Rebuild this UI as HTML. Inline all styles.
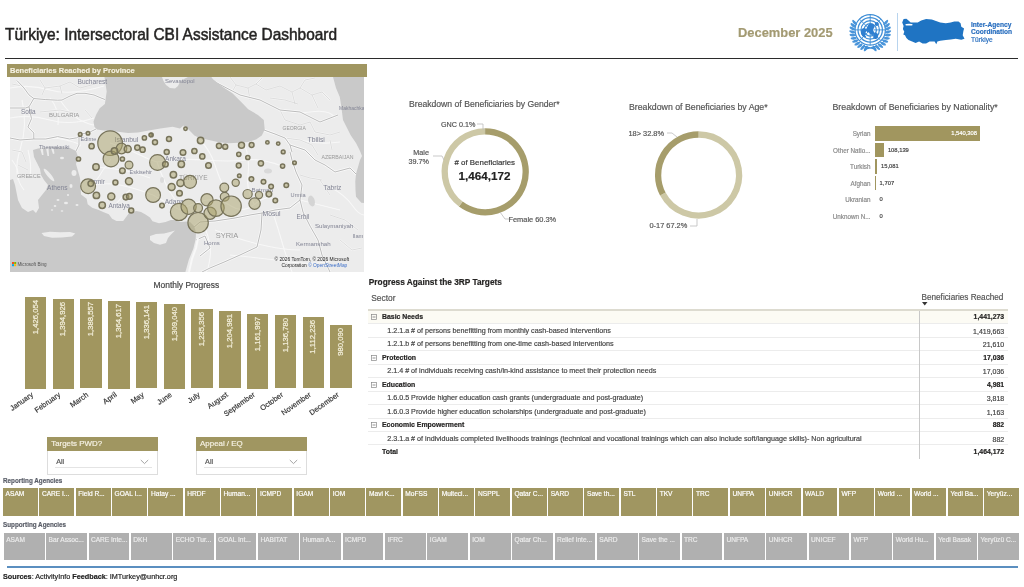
<!DOCTYPE html>
<html><head><meta charset="utf-8"><style>
*{margin:0;padding:0;box-sizing:border-box}
html,body{width:1024px;height:587px;overflow:hidden;background:#fff}
body{position:relative;font-family:"Liberation Sans",sans-serif;color:#333}
#root{position:absolute;left:0;top:0;width:1024px;height:587px;background:#fff;will-change:transform}
.a{position:absolute;white-space:nowrap}
.t{position:absolute;white-space:nowrap;line-height:1;-webkit-text-stroke:0.18px currentColor}
</style></head><body><div id="root">

<div class="t" id="title" style="left:5px;top:25.6px;font-size:16.4px;color:#252423;-webkit-text-stroke:0.5px #252423;transform-origin:0 0;transform:scaleX(0.942)">Türkiye: Intersectoral CBI Assistance Dashboard</div>
<div class="t" id="date" style="left:738px;top:26.8px;font-size:12.9px;font-weight:bold;color:#a39a72">December 2025</div>
<div class="a" style="left:5px;top:57.5px;width:1013px;height:1.6px;background:#2b2b2b"></div>
<svg class="a" style="left:0;top:0" width="1024" height="60"><g fill="none" stroke="#3f8ed6" stroke-width="1.25"><circle cx="870.2" cy="29.9" r="15.2"/><circle cx="870.2" cy="29.9" r="12.2"/><circle cx="870.2" cy="29.9" r="9.2"/><circle cx="870.2" cy="29.9" r="6.2"/></g><g stroke="#3f8ed6" stroke-width="0.9"><line x1="870.20" y1="26.90" x2="870.20" y2="14.70"/><line x1="872.32" y1="27.78" x2="880.95" y2="19.15"/><line x1="873.20" y1="29.90" x2="885.40" y2="29.90"/><line x1="872.32" y1="32.02" x2="880.95" y2="40.65"/><line x1="870.20" y1="32.90" x2="870.20" y2="45.10"/><line x1="868.08" y1="32.02" x2="859.45" y2="40.65"/><line x1="867.20" y1="29.90" x2="855.00" y2="29.90"/><line x1="868.08" y1="27.78" x2="859.45" y2="19.15"/></g><path fill="#2f7fd0" d="M868.2 24.9 q2 -2 5 -1 q2 2 1 4 q-2 1 -1 3 q2 1 1 3 q-2 2 -4 0 q-1 -2 -3 -2 q-2 -1 -1 -3 q1 -2 2 -4 z"/><path fill="#2f7fd0" d="M861.2 29.9 q2 -3 5 -1 q1 2 -1 4 q-1 2 1 4 q-2 1 -4 -1 q-2 -3 -1 -6 z"/><path fill="#2f7fd0" d="M874.2 32.9 q3 -1 4 2 q0 3 -2 4 q-3 0 -3 -2 q0 -2 1 -4 z"/><path fill="#2f7fd0" d="M875.2 21.9 q3 0 4 2 q-1 2 -3 2 q-2 -1 -1 -4 z"/><ellipse cx="874.65" cy="48.95" rx="2.80" ry="1.20" transform="rotate(231.0 874.65 48.95)" fill="#4a95da"/><ellipse cx="874.26" cy="47.40" rx="2.40" ry="0.90" transform="rotate(231.0 874.26 47.40)" fill="#4a95da"/><ellipse cx="877.83" cy="47.84" rx="2.80" ry="1.20" transform="rotate(220.5 877.83 47.84)" fill="#4a95da"/><ellipse cx="877.17" cy="46.39" rx="2.40" ry="0.90" transform="rotate(220.5 877.17 46.39)" fill="#4a95da"/><ellipse cx="880.75" cy="46.17" rx="2.80" ry="1.20" transform="rotate(210.0 880.75 46.17)" fill="#4a95da"/><ellipse cx="879.84" cy="44.86" rx="2.40" ry="0.90" transform="rotate(210.0 879.84 44.86)" fill="#4a95da"/><ellipse cx="883.32" cy="44.00" rx="2.80" ry="1.20" transform="rotate(199.5 883.32 44.00)" fill="#4a95da"/><ellipse cx="882.18" cy="42.88" rx="2.40" ry="0.90" transform="rotate(199.5 882.18 42.88)" fill="#4a95da"/><ellipse cx="885.45" cy="41.39" rx="2.80" ry="1.20" transform="rotate(189.0 885.45 41.39)" fill="#4a95da"/><ellipse cx="884.13" cy="40.49" rx="2.40" ry="0.90" transform="rotate(189.0 884.13 40.49)" fill="#4a95da"/><ellipse cx="887.07" cy="38.44" rx="2.80" ry="1.20" transform="rotate(178.5 887.07 38.44)" fill="#4a95da"/><ellipse cx="885.61" cy="37.80" rx="2.40" ry="0.90" transform="rotate(178.5 885.61 37.80)" fill="#4a95da"/><ellipse cx="888.13" cy="35.24" rx="2.80" ry="1.20" transform="rotate(168.0 888.13 35.24)" fill="#4a95da"/><ellipse cx="886.57" cy="34.88" rx="2.40" ry="0.90" transform="rotate(168.0 886.57 34.88)" fill="#4a95da"/><ellipse cx="888.58" cy="31.90" rx="2.80" ry="1.20" transform="rotate(157.5 888.58 31.90)" fill="#4a95da"/><ellipse cx="886.98" cy="31.83" rx="2.40" ry="0.90" transform="rotate(157.5 886.98 31.83)" fill="#4a95da"/><ellipse cx="888.42" cy="28.54" rx="2.80" ry="1.20" transform="rotate(147.0 888.42 28.54)" fill="#4a95da"/><ellipse cx="886.84" cy="28.76" rx="2.40" ry="0.90" transform="rotate(147.0 886.84 28.76)" fill="#4a95da"/><ellipse cx="887.65" cy="25.26" rx="2.80" ry="1.20" transform="rotate(136.5 887.65 25.26)" fill="#4a95da"/><ellipse cx="886.13" cy="25.77" rx="2.40" ry="0.90" transform="rotate(136.5 886.13 25.77)" fill="#4a95da"/><ellipse cx="886.29" cy="22.18" rx="2.80" ry="1.20" transform="rotate(126.0 886.29 22.18)" fill="#4a95da"/><ellipse cx="884.89" cy="22.96" rx="2.40" ry="0.90" transform="rotate(126.0 884.89 22.96)" fill="#4a95da"/><ellipse cx="865.75" cy="48.95" rx="2.80" ry="1.20" transform="rotate(309.0 865.75 48.95)" fill="#4a95da"/><ellipse cx="866.14" cy="47.40" rx="2.40" ry="0.90" transform="rotate(309.0 866.14 47.40)" fill="#4a95da"/><ellipse cx="862.57" cy="47.84" rx="2.80" ry="1.20" transform="rotate(319.5 862.57 47.84)" fill="#4a95da"/><ellipse cx="863.23" cy="46.39" rx="2.40" ry="0.90" transform="rotate(319.5 863.23 46.39)" fill="#4a95da"/><ellipse cx="859.65" cy="46.17" rx="2.80" ry="1.20" transform="rotate(330.0 859.65 46.17)" fill="#4a95da"/><ellipse cx="860.56" cy="44.86" rx="2.40" ry="0.90" transform="rotate(330.0 860.56 44.86)" fill="#4a95da"/><ellipse cx="857.08" cy="44.00" rx="2.80" ry="1.20" transform="rotate(340.5 857.08 44.00)" fill="#4a95da"/><ellipse cx="858.22" cy="42.88" rx="2.40" ry="0.90" transform="rotate(340.5 858.22 42.88)" fill="#4a95da"/><ellipse cx="854.95" cy="41.39" rx="2.80" ry="1.20" transform="rotate(351.0 854.95 41.39)" fill="#4a95da"/><ellipse cx="856.27" cy="40.49" rx="2.40" ry="0.90" transform="rotate(351.0 856.27 40.49)" fill="#4a95da"/><ellipse cx="853.33" cy="38.44" rx="2.80" ry="1.20" transform="rotate(361.5 853.33 38.44)" fill="#4a95da"/><ellipse cx="854.79" cy="37.80" rx="2.40" ry="0.90" transform="rotate(361.5 854.79 37.80)" fill="#4a95da"/><ellipse cx="852.27" cy="35.24" rx="2.80" ry="1.20" transform="rotate(372.0 852.27 35.24)" fill="#4a95da"/><ellipse cx="853.83" cy="34.88" rx="2.40" ry="0.90" transform="rotate(372.0 853.83 34.88)" fill="#4a95da"/><ellipse cx="851.82" cy="31.90" rx="2.80" ry="1.20" transform="rotate(382.5 851.82 31.90)" fill="#4a95da"/><ellipse cx="853.42" cy="31.83" rx="2.40" ry="0.90" transform="rotate(382.5 853.42 31.83)" fill="#4a95da"/><ellipse cx="851.98" cy="28.54" rx="2.80" ry="1.20" transform="rotate(393.0 851.98 28.54)" fill="#4a95da"/><ellipse cx="853.56" cy="28.76" rx="2.40" ry="0.90" transform="rotate(393.0 853.56 28.76)" fill="#4a95da"/><ellipse cx="852.75" cy="25.26" rx="2.80" ry="1.20" transform="rotate(403.5 852.75 25.26)" fill="#4a95da"/><ellipse cx="854.27" cy="25.77" rx="2.40" ry="0.90" transform="rotate(403.5 854.27 25.77)" fill="#4a95da"/><ellipse cx="854.11" cy="22.18" rx="2.80" ry="1.20" transform="rotate(414.0 854.11 22.18)" fill="#4a95da"/><ellipse cx="855.51" cy="22.96" rx="2.40" ry="0.90" transform="rotate(414.0 855.51 22.96)" fill="#4a95da"/><path d="M864.2 49.4 L876.2 46.4 M876.2 49.4 L864.2 46.4" stroke="#3f8ed6" stroke-width="1.2"/></svg>
<div class="a" style="left:896.5px;top:12.5px;width:1px;height:38px;background:#b8d4ee"></div>
<svg class="a" style="left:0;top:0" width="1024" height="60"><path fill="#1f74c3" d="M903.6 19.0 L906.4 18.7 L908.5 20.4 L910.7 22.5 L914.2 22.5 L917.7 22.5 L921.2 20.4 L926.1 19.0 L931.8 19.4 L936.0 21.1 L940.2 22.5 L945.8 23.3 L950.7 22.5 L954.3 21.5 L958.5 21.5 L960.6 23.3 L961.3 26.8 L964.1 28.5 L963.4 31.0 L962.7 35.2 L964.5 38.7 L961.3 39.8 L955.7 38.7 L950.7 39.4 L945.8 40.1 L940.2 40.8 L937.4 41.5 L936.3 44.3 L934.6 41.5 L929.6 41.5 L926.1 43.6 L922.6 43.6 L919.1 41.5 L915.6 42.9 L912.1 41.5 L908.5 40.1 L906.4 38.0 L905.0 35.2 L903.3 34.5 L904.3 31.7 L902.9 28.9 L903.6 26.1 L902.2 22.5 Z"/><ellipse cx="909" cy="24.7" rx="3.6" ry="0.9" fill="#fff"/></svg>
<div class="t" style="left:971px;top:21.2px;font-size:6.6px;font-weight:bold;color:#2a6fbf;line-height:7.3px">Inter-Agency<br>Coordination<br><span style="font-weight:normal">Türkiye</span></div>
<div class="a" style="left:7px;top:64px;width:359.5px;height:13px;background:#a09661"></div>
<div class="t" id="maptitle" style="left:10px;top:66.5px;font-size:7.5px;font-weight:bold;color:#f4f0e0">Beneficiaries Reached by Province</div>
<svg class="a" style="left:10px;top:77px" width="354" height="195" viewBox="10 77 354 195">
<rect x="10" y="77" width="354" height="195" fill="#ececec"/>
<path d="M10 88 Q30 84 50 90 T104 86" fill="none" stroke="#f8f8f8" stroke-width="1.1" opacity="0.95"/>
<path d="M10 118 Q30 114 50 120 T94 118" fill="none" stroke="#f8f8f8" stroke-width="1.1" opacity="0.95"/>
<path d="M22 100 Q28 125 20 150 T24 190" fill="none" stroke="#f8f8f8" stroke-width="1.1" opacity="0.95"/>
<path d="M30 140 Q50 136 66 140 T80 146" fill="none" stroke="#f8f8f8" stroke-width="1.1" opacity="0.95"/>
<path d="M60 100 Q70 115 80 120 T95 125" fill="none" stroke="#f8f8f8" stroke-width="1.1" opacity="0.95"/>
<path d="M110 143 Q130 150 140 155 T157 162" fill="none" stroke="#f8f8f8" stroke-width="1.1" opacity="0.95"/>
<path d="M157 162 Q165 185 172 195 T180 210" fill="none" stroke="#f8f8f8" stroke-width="1.1" opacity="0.95"/>
<path d="M157 162 Q180 158 205 160 T245 160 T282 166" fill="none" stroke="#f8f8f8" stroke-width="1.1" opacity="0.95"/>
<path d="M88 186 Q105 182 120 185 T153 195" fill="none" stroke="#f8f8f8" stroke-width="1.1" opacity="0.95"/>
<path d="M153 195 Q165 202 180 210" fill="none" stroke="#f8f8f8" stroke-width="1.1" opacity="0.95"/>
<path d="M180 210 Q195 202 207 200 T231 206 T255 204 T275 200" fill="none" stroke="#f8f8f8" stroke-width="1.1" opacity="0.95"/>
<path d="M111 159 Q104 168 100 175 T88 186" fill="none" stroke="#f8f8f8" stroke-width="1.1" opacity="0.95"/>
<path d="M115 205 Q122 196 130 190" fill="none" stroke="#f8f8f8" stroke-width="1.1" opacity="0.95"/>
<path d="M96 167 Q110 168 122 170 T150 178" fill="none" stroke="#f8f8f8" stroke-width="1.1" opacity="0.95"/>
<path d="M200 140 Q210 150 215 165 T224 187" fill="none" stroke="#f8f8f8" stroke-width="1.1" opacity="0.95"/>
<path d="M245 145 Q250 160 248 175 T254 204" fill="none" stroke="#f8f8f8" stroke-width="1.1" opacity="0.95"/>
<path d="M273 213 Q278 228 282 242 T292 272" fill="none" stroke="#f8f8f8" stroke-width="1.1" opacity="0.95"/>
<path d="M205 228 Q212 245 210 258 T206 272" fill="none" stroke="#f8f8f8" stroke-width="1.1" opacity="0.95"/>
<path d="M330 187 Q345 195 352 205 T364 215" fill="none" stroke="#f8f8f8" stroke-width="1.1" opacity="0.95"/>
<path d="M215 230 Q240 240 262 245 T300 250" fill="none" stroke="#f8f8f8" stroke-width="1.1" opacity="0.95"/>
<path d="M300 200 Q320 205 340 210" fill="none" stroke="#f8f8f8" stroke-width="1.1" opacity="0.95"/>
<path d="M270 105 Q290 115 310 112 T335 118" fill="none" stroke="#f8f8f8" stroke-width="1.1" opacity="0.95"/>
<path d="M300 140 Q320 145 340 142" fill="none" stroke="#f8f8f8" stroke-width="1.1" opacity="0.95"/>
<path d="M230 255 Q260 258 290 262 T340 258" fill="none" stroke="#f8f8f8" stroke-width="1.1" opacity="0.95"/>
<path d="M12 160 Q20 170 18 180" fill="none" stroke="#f8f8f8" stroke-width="1.1" opacity="0.95"/>
<path d="M28 150 Q32 165 30 176" fill="none" stroke="#f8f8f8" stroke-width="1.1" opacity="0.95"/>
<path d="M50 98 Q60 110 58 125" fill="none" stroke="#f8f8f8" stroke-width="1.1" opacity="0.95"/>
<path d="M230 77 L236 85 L248 88 L256 84 L266 90" fill="none" stroke="#f6f6f6" stroke-width="1.8" stroke-linejoin="round"/>
<path d="M256 84 L262 78" fill="none" stroke="#f6f6f6" stroke-width="1.8" stroke-linejoin="round"/>
<path d="M266 90 L280 86 L292 92 L300 88 L312 95 L322 92" fill="none" stroke="#f6f6f6" stroke-width="1.8" stroke-linejoin="round"/>
<path d="M292 92 L295 104" fill="none" stroke="#f6f6f6" stroke-width="1.8" stroke-linejoin="round"/>
<path d="M312 95 L318 108" fill="none" stroke="#f6f6f6" stroke-width="1.8" stroke-linejoin="round"/>
<path d="M248 88 L250 100" fill="none" stroke="#f6f6f6" stroke-width="1.8" stroke-linejoin="round"/>
<path d="M270 98 L285 100 L298 104" fill="none" stroke="#f6f6f6" stroke-width="1.8" stroke-linejoin="round"/>
<path d="M236 85 L232 92" fill="none" stroke="#f6f6f6" stroke-width="1.8" stroke-linejoin="round"/>
<path d="M300 88 L305 80 L315 78" fill="none" stroke="#f6f6f6" stroke-width="1.8" stroke-linejoin="round"/>
<path d="M322 92 L330 100" fill="none" stroke="#f6f6f6" stroke-width="1.8" stroke-linejoin="round"/>
<path d="M280 110 L285 120 L300 125 L310 122" fill="none" stroke="#f6f6f6" stroke-width="1.8" stroke-linejoin="round"/>
<path d="M310 122 L315 132 L330 135 L340 132" fill="none" stroke="#f6f6f6" stroke-width="1.8" stroke-linejoin="round"/>
<path d="M285 138 L300 140 L312 145" fill="none" stroke="#f6f6f6" stroke-width="1.8" stroke-linejoin="round"/>
<path d="M312 145 L318 155" fill="none" stroke="#f6f6f6" stroke-width="1.8" stroke-linejoin="round"/>
<path d="M330 140 L332 150" fill="none" stroke="#f6f6f6" stroke-width="1.8" stroke-linejoin="round"/>
<path d="M300 175 L310 178 L322 180" fill="none" stroke="#f6f6f6" stroke-width="1.8" stroke-linejoin="round"/>
<path d="M320 180 L330 195" fill="none" stroke="#f6f6f6" stroke-width="1.8" stroke-linejoin="round"/>
<path d="M40 80 L45 88 L60 86 L70 82" fill="none" stroke="#f6f6f6" stroke-width="1.8" stroke-linejoin="round"/>
<path d="M70 82 L80 88 L95 84" fill="none" stroke="#f6f6f6" stroke-width="1.8" stroke-linejoin="round"/>
<path d="M45 88 L42 95" fill="none" stroke="#f6f6f6" stroke-width="1.8" stroke-linejoin="round"/>
<path d="M12 84 L22 86" fill="none" stroke="#f6f6f6" stroke-width="1.8" stroke-linejoin="round"/>
<path d="M60 86 L62 94" fill="none" stroke="#f6f6f6" stroke-width="1.8" stroke-linejoin="round"/>
<path d="M85 110 L92 118" fill="none" stroke="#f6f6f6" stroke-width="1.8" stroke-linejoin="round"/>
<path d="M40 112 L60 110 L78 114" fill="none" stroke="#f6f6f6" stroke-width="1.8" stroke-linejoin="round"/>
<path d="M12 150 L22 152 L26 162" fill="none" stroke="#f6f6f6" stroke-width="1.8" stroke-linejoin="round"/>
<path d="M18 165 L28 170" fill="none" stroke="#f6f6f6" stroke-width="1.8" stroke-linejoin="round"/>
<path d="M120 240 L135 260" fill="none" stroke="#f6f6f6" stroke-width="1.8" stroke-linejoin="round"/>
<path d="M330 215 L345 220 L358 230" fill="none" stroke="#f6f6f6" stroke-width="1.8" stroke-linejoin="round"/>
<path d="M340 240 L352 250 L362 248" fill="none" stroke="#f6f6f6" stroke-width="1.8" stroke-linejoin="round"/>
<path d="M230 77 L236 85 L248 88 L256 84 L266 90" fill="none" stroke="#cbcbcb" stroke-width="0.6" stroke-linejoin="round"/>
<path d="M256 84 L262 78" fill="none" stroke="#cbcbcb" stroke-width="0.6" stroke-linejoin="round"/>
<path d="M266 90 L280 86 L292 92 L300 88 L312 95 L322 92" fill="none" stroke="#cbcbcb" stroke-width="0.6" stroke-linejoin="round"/>
<path d="M292 92 L295 104" fill="none" stroke="#cbcbcb" stroke-width="0.6" stroke-linejoin="round"/>
<path d="M312 95 L318 108" fill="none" stroke="#cbcbcb" stroke-width="0.6" stroke-linejoin="round"/>
<path d="M248 88 L250 100" fill="none" stroke="#cbcbcb" stroke-width="0.6" stroke-linejoin="round"/>
<path d="M270 98 L285 100 L298 104" fill="none" stroke="#cbcbcb" stroke-width="0.6" stroke-linejoin="round"/>
<path d="M236 85 L232 92" fill="none" stroke="#cbcbcb" stroke-width="0.6" stroke-linejoin="round"/>
<path d="M300 88 L305 80 L315 78" fill="none" stroke="#cbcbcb" stroke-width="0.6" stroke-linejoin="round"/>
<path d="M322 92 L330 100" fill="none" stroke="#cbcbcb" stroke-width="0.6" stroke-linejoin="round"/>
<path d="M280 110 L285 120 L300 125 L310 122" fill="none" stroke="#cbcbcb" stroke-width="0.6" stroke-linejoin="round"/>
<path d="M310 122 L315 132 L330 135 L340 132" fill="none" stroke="#cbcbcb" stroke-width="0.6" stroke-linejoin="round"/>
<path d="M285 138 L300 140 L312 145" fill="none" stroke="#cbcbcb" stroke-width="0.6" stroke-linejoin="round"/>
<path d="M312 145 L318 155" fill="none" stroke="#cbcbcb" stroke-width="0.6" stroke-linejoin="round"/>
<path d="M330 140 L332 150" fill="none" stroke="#cbcbcb" stroke-width="0.6" stroke-linejoin="round"/>
<path d="M300 175 L310 178 L322 180" fill="none" stroke="#cbcbcb" stroke-width="0.6" stroke-linejoin="round"/>
<path d="M320 180 L330 195" fill="none" stroke="#cbcbcb" stroke-width="0.6" stroke-linejoin="round"/>
<path d="M40 80 L45 88 L60 86 L70 82" fill="none" stroke="#cbcbcb" stroke-width="0.6" stroke-linejoin="round"/>
<path d="M70 82 L80 88 L95 84" fill="none" stroke="#cbcbcb" stroke-width="0.6" stroke-linejoin="round"/>
<path d="M45 88 L42 95" fill="none" stroke="#cbcbcb" stroke-width="0.6" stroke-linejoin="round"/>
<path d="M12 84 L22 86" fill="none" stroke="#cbcbcb" stroke-width="0.6" stroke-linejoin="round"/>
<path d="M60 86 L62 94" fill="none" stroke="#cbcbcb" stroke-width="0.6" stroke-linejoin="round"/>
<path d="M85 110 L92 118" fill="none" stroke="#cbcbcb" stroke-width="0.6" stroke-linejoin="round"/>
<path d="M40 112 L60 110 L78 114" fill="none" stroke="#cbcbcb" stroke-width="0.6" stroke-linejoin="round"/>
<path d="M12 150 L22 152 L26 162" fill="none" stroke="#cbcbcb" stroke-width="0.6" stroke-linejoin="round"/>
<path d="M18 165 L28 170" fill="none" stroke="#cbcbcb" stroke-width="0.6" stroke-linejoin="round"/>
<path d="M120 240 L135 260" fill="none" stroke="#cbcbcb" stroke-width="0.6" stroke-linejoin="round"/>
<path d="M330 215 L345 220 L358 230" fill="none" stroke="#cbcbcb" stroke-width="0.6" stroke-linejoin="round"/>
<path d="M340 240 L352 250 L362 248" fill="none" stroke="#cbcbcb" stroke-width="0.6" stroke-linejoin="round"/>
<path d="M17 80.6 L24 88 L29 94.9 L33.8 98.5 L45.8 99.6 L57.7 100.2 L62 100 L70 96 L77 93.3 L85 93.3 L94 95 L102 98.4 L105 99.5" fill="none" stroke="#fafafa" stroke-width="2.4" stroke-linejoin="round"/>
<path d="M33.8 98.5 L29 106.8 L31.5 118.7 L27.9 127 L33.8 133 L33.8 139" fill="none" stroke="#fafafa" stroke-width="2.4" stroke-linejoin="round"/>
<path d="M33.8 139 L45.8 139 L57.7 136.6 L69.6 139 L76.7 137.8 L82 134 L90 132 L96 129" fill="none" stroke="#fafafa" stroke-width="2.4" stroke-linejoin="round"/>
<path d="M79 136 L79 145 L76 151" fill="none" stroke="#fafafa" stroke-width="2.4" stroke-linejoin="round"/>
<path d="M10 108 L25.5 108 L29 106.8" fill="none" stroke="#fafafa" stroke-width="2.4" stroke-linejoin="round"/>
<path d="M10 138 L20 140 L33.8 139" fill="none" stroke="#fafafa" stroke-width="2.4" stroke-linejoin="round"/>
<path d="M193 228 L200 222 L215 221 L235 218 L250 215 L262 213" fill="none" stroke="#fafafa" stroke-width="2.4" stroke-linejoin="round"/>
<path d="M262 213 L261 230 L257 247 L240 255 L225 261.7 L210 268 L202 272" fill="none" stroke="#fafafa" stroke-width="2.4" stroke-linejoin="round"/>
<path d="M262 213 L275 210 L290 208 L300 200" fill="none" stroke="#fafafa" stroke-width="2.4" stroke-linejoin="round"/>
<path d="M300 200 L303 212 L310 226 L318 240 L322 255 L330 272" fill="none" stroke="#fafafa" stroke-width="2.4" stroke-linejoin="round"/>
<path d="M300 200 L302 185 L296 172 L292 160 L290 152" fill="none" stroke="#fafafa" stroke-width="2.4" stroke-linejoin="round"/>
<path d="M264 130 L275 134 L285 138 L290 145 L292 152" fill="none" stroke="#fafafa" stroke-width="2.4" stroke-linejoin="round"/>
<path d="M215 82 L240 95 L260 100 L280 110 L300 112 L320 122 L338 115" fill="none" stroke="#fafafa" stroke-width="2.4" stroke-linejoin="round"/>
<path d="M290 145 L305 150 L315 160 L325 165 L335 172 L350 168 L357 175" fill="none" stroke="#fafafa" stroke-width="2.4" stroke-linejoin="round"/>
<path d="M196 240 L205 236 L210 248 L200 256" fill="none" stroke="#fafafa" stroke-width="2.4" stroke-linejoin="round"/>
<path d="M17 80.6 L24 88 L29 94.9 L33.8 98.5 L45.8 99.6 L57.7 100.2 L62 100 L70 96 L77 93.3 L85 93.3 L94 95 L102 98.4 L105 99.5" fill="none" stroke="#bcbcbc" stroke-width="1" stroke-linejoin="round"/>
<path d="M33.8 98.5 L29 106.8 L31.5 118.7 L27.9 127 L33.8 133 L33.8 139" fill="none" stroke="#bcbcbc" stroke-width="1" stroke-linejoin="round"/>
<path d="M33.8 139 L45.8 139 L57.7 136.6 L69.6 139 L76.7 137.8 L82 134 L90 132 L96 129" fill="none" stroke="#bcbcbc" stroke-width="1" stroke-linejoin="round"/>
<path d="M79 136 L79 145 L76 151" fill="none" stroke="#bcbcbc" stroke-width="1" stroke-linejoin="round"/>
<path d="M10 108 L25.5 108 L29 106.8" fill="none" stroke="#bcbcbc" stroke-width="1" stroke-linejoin="round"/>
<path d="M10 138 L20 140 L33.8 139" fill="none" stroke="#bcbcbc" stroke-width="1" stroke-linejoin="round"/>
<path d="M193 228 L200 222 L215 221 L235 218 L250 215 L262 213" fill="none" stroke="#bcbcbc" stroke-width="1" stroke-linejoin="round"/>
<path d="M262 213 L261 230 L257 247 L240 255 L225 261.7 L210 268 L202 272" fill="none" stroke="#bcbcbc" stroke-width="1" stroke-linejoin="round"/>
<path d="M262 213 L275 210 L290 208 L300 200" fill="none" stroke="#bcbcbc" stroke-width="1" stroke-linejoin="round"/>
<path d="M300 200 L303 212 L310 226 L318 240 L322 255 L330 272" fill="none" stroke="#bcbcbc" stroke-width="1" stroke-linejoin="round"/>
<path d="M300 200 L302 185 L296 172 L292 160 L290 152" fill="none" stroke="#bcbcbc" stroke-width="1" stroke-linejoin="round"/>
<path d="M264 130 L275 134 L285 138 L290 145 L292 152" fill="none" stroke="#bcbcbc" stroke-width="1" stroke-linejoin="round"/>
<path d="M215 82 L240 95 L260 100 L280 110 L300 112 L320 122 L338 115" fill="none" stroke="#bcbcbc" stroke-width="1" stroke-linejoin="round"/>
<path d="M290 145 L305 150 L315 160 L325 165 L335 172 L350 168 L357 175" fill="none" stroke="#bcbcbc" stroke-width="1" stroke-linejoin="round"/>
<path d="M196 240 L205 236 L210 248 L200 256" fill="none" stroke="#bcbcbc" stroke-width="1" stroke-linejoin="round"/>
<path d="M104.5 77.0 L106.7 91.6 L104.9 103.9 L99.7 108.3 L96.2 114.4 L93.5 121.5 L94.4 126.7 L97.0 129.4 L104.0 130.5 L111.1 131.0 L120.0 132.0 L128.0 133.0 L138.0 132.5 L146.0 131.0 L160.3 128.5 L172.6 126.7 L180.0 128.5 L183.5 125.5 L186.5 127.5 L189.5 130.6 L194.4 135.5 L199.3 138.0 L209.0 140.0 L218.8 142.3 L228.6 143.3 L238.4 142.8 L248.1 141.9 L256.0 139.4 L261.8 135.5 L264.7 129.6 L263.8 120.0 L257.9 115.0 L248.2 109.2 L241.2 102.1 L232.4 93.3 L221.8 86.3 L213.0 79.3 L211.3 77.0 Z" fill="#c9c9c9" />
<path d="M162.0 77.0 L163.5 81.0 L166.0 85.0 L170.0 88.0 L175.0 88.5 L178.0 86.0 L180.0 82.0 L184.0 79.0 L188.0 77.0 Z" fill="#ececec" />
<path d="M33.0 150.0 L38.0 148.5 L46.0 147.5 L52.0 147.0 L60.0 147.0 L70.0 148.0 L76.0 151.0 L78.0 157.0 L76.0 164.0 L78.0 171.0 L80.0 178.0 L80.5 186.0 L81.0 194.4 L86.6 198.8 L87.7 204.3 L92.2 207.7 L98.8 209.9 L103.2 212.1 L108.8 214.3 L112.1 218.8 L116.5 221.0 L123.2 221.0 L126.5 216.5 L129.0 213.0 L132.0 212.0 L136.5 211.0 L141.0 212.0 L145.5 214.5 L150.0 217.6 L152.5 221.2 L159.0 223.2 L165.6 221.9 L170.8 219.9 L176.0 220.0 L181.0 222.0 L186.0 221.5 L190.0 222.0 L194.0 226.0 L196.0 232.0 L195.7 239.0 L193.4 248.4 L188.8 259.8 L185.4 272.0 L10.0 272.0 L10.0 180.0 L13.0 179.0 L15.0 185.0 L16.0 190.0 L18.0 200.0 L22.0 208.0 L28.0 212.0 L33.0 210.0 L36.0 213.0 L39.0 208.0 L38.0 200.0 L42.0 195.0 L46.0 190.0 L48.0 185.0 L44.0 180.0 L41.0 175.0 L40.0 169.0 L37.0 163.0 L34.0 157.0 Z" fill="#c9c9c9" />
<ellipse cx="49" cy="175" rx="8" ry="1.8" transform="rotate(50 49 175)" fill="#ececec"/>
<path d="M198 238 L196 248 L192 259 L189 272" stroke="#f8f8f8" stroke-width="2" fill="none"/>
<path d="M40 148 L42 155 L43.5 155 L43 149 Z M46 148 L47.5 156 L49 156 L48.5 148 Z M51 148 L53 154 L54.5 153.5 L53.5 148 Z" fill="#ececec"/>
<path d="M41.5 233.0 L50.0 231.8 L60.0 232.2 L70.0 232.0 L75.3 233.5 L72.0 236.5 L62.0 237.5 L52.0 237.7 L44.0 236.0 Z" fill="#ececec" />
<path d="M150.0 236.0 L156.0 234.0 L164.0 233.5 L170.0 232.0 L175.0 230.5 L171.0 234.5 L168.0 238.0 L166.0 243.0 L160.0 244.8 L154.0 243.0 L150.0 240.0 Z" fill="#ececec" />
<ellipse cx="74" cy="173" rx="2.5" ry="3" fill="#ececec"/>
<ellipse cx="71" cy="186" rx="1.5" ry="2" fill="#ececec"/>
<ellipse cx="66" cy="203" rx="2" ry="1.2" fill="#ececec"/>
<ellipse cx="58" cy="200" rx="1.5" ry="1" fill="#ececec"/>
<ellipse cx="62" cy="158" rx="2" ry="1.2" fill="#ececec"/>
<ellipse cx="55" cy="206" rx="1.3" ry="1" fill="#ececec"/>
<ellipse cx="77" cy="205" rx="1.5" ry="1" fill="#ececec"/>
<ellipse cx="52" cy="210" rx="1.2" ry="0.8" fill="#ececec"/>
<ellipse cx="62" cy="211" rx="1.3" ry="0.8" fill="#ececec"/>
<ellipse cx="68" cy="195" rx="1" ry="1" fill="#ececec"/>
<path d="M333.0 77.0 L336.0 88.0 L339.8 97.0 L341.5 108.0 L343.0 120.0 L350.7 135.3 L356.0 143.0 L359.9 150.7 L362.0 156.0 L360.0 160.0 L358.3 166.0 L356.0 174.0 L355.3 181.3 L355.5 190.0 L356.0 196.7 L361.4 202.8 L364.0 203.0 L364.0 77.0 Z" fill="#c9c9c9" />
<ellipse cx="311.5" cy="201" rx="3.3" ry="5.5" transform="rotate(-15 311.5 201)" fill="#d4d4d4"/>
<ellipse cx="268" cy="171" rx="4" ry="2.5" fill="#d9d9d9"/>
<ellipse cx="162" cy="180" rx="2" ry="3" fill="#dcdcdc"/>
<text x="77.5" y="83.5" font-family="Liberation Sans" font-size="6.6" fill="#828494">Bucharest</text>
<text x="165" y="83" font-family="Liberation Sans" font-size="6" fill="#828494">Sevastopol</text>
<text x="21" y="113.5" font-family="Liberation Sans" font-size="6.4" fill="#828494">Sofia</text>
<text x="49" y="117" font-family="Liberation Sans" font-size="6" fill="#999999">BULGARIA</text>
<text x="39" y="148.5" font-family="Liberation Sans" font-size="5.5" fill="#828494">Thessaloniki</text>
<text x="80.5" y="140.5" font-family="Liberation Sans" font-size="5.5" fill="#828494">Edirne</text>
<text x="114.5" y="141.8" font-family="Liberation Sans" font-size="6.8" fill="#828494">Istanbul</text>
<text x="17" y="178" font-family="Liberation Sans" font-size="5.6" fill="#999999">GREECE</text>
<text x="47" y="189.5" font-family="Liberation Sans" font-size="6.6" fill="#828494">Athens</text>
<text x="91" y="183.5" font-family="Liberation Sans" font-size="6.4" fill="#828494">Izmir</text>
<text x="108.5" y="208" font-family="Liberation Sans" font-size="6.4" fill="#828494">Antalya</text>
<text x="165" y="161" font-family="Liberation Sans" font-size="6.6" fill="#828494">Ankara</text>
<text x="129.5" y="174.3" font-family="Liberation Sans" font-size="5.5" fill="#828494">Eskisehir</text>
<text x="179" y="180" font-family="Liberation Sans" font-size="6.6" fill="#999999">TÜRKIYE</text>
<text x="164.7" y="204.3" font-family="Liberation Sans" font-size="6.6" fill="#828494">Adana</text>
<text x="215.7" y="237.5" font-family="Liberation Sans" font-size="7.5" fill="#999999">SYRIA</text>
<text x="262.5" y="215.5" font-family="Liberation Sans" font-size="6.8" fill="#828494">Mosul</text>
<text x="296.6" y="218.5" font-family="Liberation Sans" font-size="6.4" fill="#828494">Erbil</text>
<text x="290.6" y="197" font-family="Liberation Sans" font-size="5.6" fill="#828494">Urmia</text>
<text x="323.6" y="189.5" font-family="Liberation Sans" font-size="6.6" fill="#828494">Tabriz</text>
<text x="307.5" y="141.8" font-family="Liberation Sans" font-size="6.8" fill="#828494">Tbilisi</text>
<text x="321.5" y="158.5" font-family="Liberation Sans" font-size="5.2" fill="#999999">AZERBAIJAN</text>
<text x="282.5" y="130" font-family="Liberation Sans" font-size="5" fill="#999999">GEORGIA</text>
<text x="315" y="228.3" font-family="Liberation Sans" font-size="6.1" fill="#828494">Sulaymaniyah</text>
<text x="296" y="246.3" font-family="Liberation Sans" font-size="6.1" fill="#828494">Kermanshah</text>
<text x="204" y="244.5" font-family="Liberation Sans" font-size="6" fill="#828494">Homs</text>
<text x="339" y="110" font-family="Liberation Sans" font-size="5" fill="#828494">Makhachkala</text>
<text x="251.5" y="191.5" font-family="Liberation Sans" font-size="6.2" fill="#828494">Batman</text>
<text x="352.5" y="237.7" font-family="Liberation Sans" font-size="5.8" fill="#828494">Ilam</text>
<rect x="12" y="262" width="2" height="2" fill="#f25022"/><rect x="14.2" y="262" width="2" height="2" fill="#7fba00"/><rect x="12" y="264.2" width="2" height="2" fill="#00a4ef"/><rect x="14.2" y="264.2" width="2" height="2" fill="#ffb900"/>
<text x="17.5" y="266" font-family="Liberation Sans" font-size="4.6" fill="#555">Microsoft Bing</text>
<text x="274.5" y="261" font-family="Liberation Sans" font-size="4.85" fill="#222">© 2026 TomTom, © 2026 Microsoft</text>
<text x="281.5" y="266.8" font-family="Liberation Sans" font-size="4.85" fill="#222">Corporation <tspan fill="#3b6ec8">© OpenStreetMap</tspan></text>
<circle cx="110.1" cy="143.2" r="12.3" fill="rgba(168,160,104,0.5)" stroke="#77735a" stroke-width="1.2"/>
<circle cx="111" cy="159" r="7.9" fill="rgba(168,160,104,0.5)" stroke="#77735a" stroke-width="1.2"/>
<circle cx="121.5" cy="148.5" r="5.3" fill="rgba(168,160,104,0.5)" stroke="#77735a" stroke-width="1.2"/>
<circle cx="127.7" cy="149" r="3.5" fill="rgba(168,160,104,0.5)" stroke="#77735a" stroke-width="1.5"/>
<circle cx="114.5" cy="151" r="3.2" fill="rgba(168,160,104,0.5)" stroke="#77735a" stroke-width="1.5"/>
<circle cx="91.6" cy="146.2" r="2.6" fill="rgba(168,160,104,0.5)" stroke="#77735a" stroke-width="1.5"/>
<circle cx="80.2" cy="134.4" r="1.8" fill="rgba(168,160,104,0.5)" stroke="#77735a" stroke-width="1.5"/>
<circle cx="88" cy="133.2" r="1.8" fill="rgba(168,160,104,0.5)" stroke="#77735a" stroke-width="1.5"/>
<circle cx="78.5" cy="159" r="2.1" fill="rgba(168,160,104,0.5)" stroke="#77735a" stroke-width="1.5"/>
<circle cx="96" cy="167" r="3.2" fill="rgba(168,160,104,0.5)" stroke="#77735a" stroke-width="1.5"/>
<circle cx="122.4" cy="159" r="2.1" fill="rgba(168,160,104,0.5)" stroke="#77735a" stroke-width="1.5"/>
<circle cx="129" cy="165" r="3.9" fill="rgba(168,160,104,0.5)" stroke="#77735a" stroke-width="1.2"/>
<circle cx="122.4" cy="170.8" r="2.8" fill="rgba(168,160,104,0.5)" stroke="#77735a" stroke-width="1.5"/>
<circle cx="137.3" cy="147.6" r="2.6" fill="rgba(168,160,104,0.5)" stroke="#77735a" stroke-width="1.5"/>
<circle cx="142.6" cy="149.7" r="2.6" fill="rgba(168,160,104,0.5)" stroke="#77735a" stroke-width="1.5"/>
<circle cx="144.4" cy="137.9" r="2.1" fill="rgba(168,160,104,0.5)" stroke="#77735a" stroke-width="1.5"/>
<circle cx="151.4" cy="134.9" r="1.8" fill="rgba(168,160,104,0.5)" stroke="#77735a" stroke-width="1.5"/>
<circle cx="155" cy="142.3" r="2.5" fill="rgba(168,160,104,0.5)" stroke="#77735a" stroke-width="1.5"/>
<circle cx="169" cy="139" r="2.5" fill="rgba(168,160,104,0.5)" stroke="#77735a" stroke-width="1.5"/>
<circle cx="200.6" cy="140.5" r="3.2" fill="rgba(168,160,104,0.5)" stroke="#77735a" stroke-width="1.5"/>
<circle cx="219" cy="145.8" r="2.6" fill="rgba(168,160,104,0.5)" stroke="#77735a" stroke-width="1.5"/>
<circle cx="225.2" cy="146.7" r="2.5" fill="rgba(168,160,104,0.5)" stroke="#77735a" stroke-width="1.5"/>
<circle cx="166.7" cy="152" r="2.5" fill="rgba(168,160,104,0.5)" stroke="#77735a" stroke-width="1.5"/>
<circle cx="183" cy="152.5" r="2.8" fill="rgba(168,160,104,0.5)" stroke="#77735a" stroke-width="1.5"/>
<circle cx="194.4" cy="151" r="2.6" fill="rgba(168,160,104,0.5)" stroke="#77735a" stroke-width="1.5"/>
<circle cx="202.3" cy="156.4" r="2.6" fill="rgba(168,160,104,0.5)" stroke="#77735a" stroke-width="1.5"/>
<circle cx="157.5" cy="162.5" r="7.9" fill="rgba(168,160,104,0.5)" stroke="#77735a" stroke-width="1.2"/>
<circle cx="165.4" cy="164.3" r="2.8" fill="rgba(168,160,104,0.5)" stroke="#77735a" stroke-width="1.5"/>
<circle cx="181.3" cy="164.3" r="3.2" fill="rgba(168,160,104,0.5)" stroke="#77735a" stroke-width="1.5"/>
<circle cx="208.5" cy="165.5" r="2.8" fill="rgba(168,160,104,0.5)" stroke="#77735a" stroke-width="1.5"/>
<circle cx="173.4" cy="174.8" r="3.2" fill="rgba(168,160,104,0.5)" stroke="#77735a" stroke-width="1.5"/>
<circle cx="190" cy="181.8" r="6.5" fill="rgba(168,160,104,0.5)" stroke="#77735a" stroke-width="1.2"/>
<circle cx="180.4" cy="183" r="3.5" fill="rgba(168,160,104,0.5)" stroke="#77735a" stroke-width="1.5"/>
<circle cx="171.6" cy="187" r="3.5" fill="rgba(168,160,104,0.5)" stroke="#77735a" stroke-width="1.5"/>
<circle cx="179.5" cy="193.3" r="2.8" fill="rgba(168,160,104,0.5)" stroke="#77735a" stroke-width="1.5"/>
<circle cx="224.3" cy="187.6" r="4.4" fill="rgba(168,160,104,0.5)" stroke="#77735a" stroke-width="1.2"/>
<circle cx="235.7" cy="182.7" r="3.6" fill="rgba(168,160,104,0.5)" stroke="#77735a" stroke-width="1.2"/>
<circle cx="88.1" cy="186.2" r="7.4" fill="rgba(168,160,104,0.5)" stroke="#77735a" stroke-width="1.2"/>
<circle cx="90.8" cy="183.6" r="2.8" fill="rgba(168,160,104,0.5)" stroke="#77735a" stroke-width="1.5"/>
<circle cx="115.4" cy="182.4" r="2.5" fill="rgba(168,160,104,0.5)" stroke="#77735a" stroke-width="1.5"/>
<circle cx="129" cy="181.3" r="3.5" fill="rgba(168,160,104,0.5)" stroke="#77735a" stroke-width="1.5"/>
<circle cx="96.4" cy="195.4" r="3.2" fill="rgba(168,160,104,0.5)" stroke="#77735a" stroke-width="1.5"/>
<circle cx="111.3" cy="196.4" r="3.5" fill="rgba(168,160,104,0.5)" stroke="#77735a" stroke-width="1.5"/>
<circle cx="125.9" cy="197.1" r="2.8" fill="rgba(168,160,104,0.5)" stroke="#77735a" stroke-width="1.5"/>
<circle cx="129.4" cy="196.4" r="2.8" fill="rgba(168,160,104,0.5)" stroke="#77735a" stroke-width="1.5"/>
<circle cx="102.2" cy="205.2" r="3.2" fill="rgba(168,160,104,0.5)" stroke="#77735a" stroke-width="1.5"/>
<circle cx="131.2" cy="210.5" r="2.5" fill="rgba(168,160,104,0.5)" stroke="#77735a" stroke-width="1.5"/>
<circle cx="153.1" cy="195" r="7.4" fill="rgba(168,160,104,0.5)" stroke="#77735a" stroke-width="1.2"/>
<circle cx="162" cy="205.6" r="2.3" fill="rgba(168,160,104,0.5)" stroke="#77735a" stroke-width="1.5"/>
<circle cx="179" cy="211.9" r="8.6" fill="rgba(168,160,104,0.5)" stroke="#77735a" stroke-width="1.2"/>
<circle cx="188.6" cy="206.8" r="7.6" fill="rgba(168,160,104,0.5)" stroke="#77735a" stroke-width="1.2"/>
<circle cx="198.1" cy="222.7" r="10.2" fill="rgba(168,160,104,0.5)" stroke="#77735a" stroke-width="1.2"/>
<circle cx="198.1" cy="208.1" r="4.4" fill="rgba(168,160,104,0.5)" stroke="#77735a" stroke-width="1.2"/>
<circle cx="207" cy="199.8" r="6.1" fill="rgba(168,160,104,0.5)" stroke="#77735a" stroke-width="1.2"/>
<circle cx="210.1" cy="213.2" r="6.1" fill="rgba(168,160,104,0.5)" stroke="#77735a" stroke-width="1.2"/>
<circle cx="215.9" cy="208.1" r="8.3" fill="rgba(168,160,104,0.5)" stroke="#77735a" stroke-width="1.2"/>
<circle cx="224.7" cy="196.7" r="4.4" fill="rgba(168,160,104,0.5)" stroke="#77735a" stroke-width="1.2"/>
<circle cx="231.1" cy="206.2" r="10.2" fill="rgba(168,160,104,0.5)" stroke="#77735a" stroke-width="1.2"/>
<circle cx="239.3" cy="175.7" r="1.8" fill="rgba(168,160,104,0.5)" stroke="#77735a" stroke-width="1.5"/>
<circle cx="247.6" cy="194.1" r="4.6" fill="rgba(168,160,104,0.5)" stroke="#77735a" stroke-width="1.2"/>
<circle cx="254.6" cy="203.6" r="5.7" fill="rgba(168,160,104,0.5)" stroke="#77735a" stroke-width="1.2"/>
<circle cx="259" cy="195.1" r="3.6" fill="rgba(168,160,104,0.5)" stroke="#77735a" stroke-width="1.2"/>
<circle cx="251.4" cy="179.1" r="2.3" fill="rgba(168,160,104,0.5)" stroke="#77735a" stroke-width="1.5"/>
<circle cx="263.5" cy="181.7" r="2.3" fill="rgba(168,160,104,0.5)" stroke="#77735a" stroke-width="1.5"/>
<circle cx="271.1" cy="186.5" r="2.3" fill="rgba(168,160,104,0.5)" stroke="#77735a" stroke-width="1.5"/>
<circle cx="268.9" cy="194.1" r="2.8" fill="rgba(168,160,104,0.5)" stroke="#77735a" stroke-width="1.5"/>
<circle cx="275.3" cy="200.5" r="2.3" fill="rgba(168,160,104,0.5)" stroke="#77735a" stroke-width="1.5"/>
<circle cx="286.3" cy="185.2" r="2.3" fill="rgba(168,160,104,0.5)" stroke="#77735a" stroke-width="1.5"/>
<circle cx="241.5" cy="145.3" r="3" fill="rgba(168,160,104,0.5)" stroke="#77735a" stroke-width="1.5"/>
<circle cx="251.6" cy="145" r="2.4" fill="rgba(168,160,104,0.5)" stroke="#77735a" stroke-width="1.5"/>
<circle cx="267.4" cy="142.4" r="1.7" fill="rgba(168,160,104,0.5)" stroke="#77735a" stroke-width="1.5"/>
<circle cx="278.2" cy="143.6" r="1.7" fill="rgba(168,160,104,0.5)" stroke="#77735a" stroke-width="1.5"/>
<circle cx="283.2" cy="151.9" r="1.9" fill="rgba(168,160,104,0.5)" stroke="#77735a" stroke-width="1.5"/>
<circle cx="238.8" cy="154.3" r="2.1" fill="rgba(168,160,104,0.5)" stroke="#77735a" stroke-width="1.5"/>
<circle cx="247.8" cy="157.5" r="2.1" fill="rgba(168,160,104,0.5)" stroke="#77735a" stroke-width="1.5"/>
<circle cx="260.9" cy="163.3" r="2.6" fill="rgba(168,160,104,0.5)" stroke="#77735a" stroke-width="1.5"/>
<circle cx="238.7" cy="165.5" r="2.4" fill="rgba(168,160,104,0.5)" stroke="#77735a" stroke-width="1.5"/>
<circle cx="282.6" cy="166.1" r="2.1" fill="rgba(168,160,104,0.5)" stroke="#77735a" stroke-width="1.5"/>
<circle cx="294.5" cy="162.7" r="1.8" fill="rgba(168,160,104,0.5)" stroke="#77735a" stroke-width="1.5"/>
<circle cx="185.5" cy="128.7" r="1.7" fill="rgba(168,160,104,0.5)" stroke="#77735a" stroke-width="1.5"/>
<circle cx="150.6" cy="135" r="1.7" fill="rgba(168,160,104,0.5)" stroke="#77735a" stroke-width="1.5"/>
</svg>
<div class="t" id="gtitle" style="left:409px;top:100px;font-size:8.65px;color:#555">Breakdown of Beneficiaries by Gender*</div>
<svg class="a" style="left:0;top:0" width="1024" height="587">
<path d="M485.20 131.30 A40.5 40.5 0 1 1 460.77 204.10" fill="none" stroke="#a69d6b" stroke-width="6.3"/><path d="M460.77 204.10 A40.5 40.5 0 0 1 484.92 131.30" fill="none" stroke="#cdc8a6" stroke-width="6.3"/><path d="M484.92 131.30 A40.5 40.5 0 0 1 485.20 131.30" fill="none" stroke="#8a8050" stroke-width="6.3"/>
<path d="M477 124 L483 124 L483 130" fill="none" stroke="#bbb" stroke-width="0.8"/>
<path d="M433 156 L442 156 L444 160" fill="none" stroke="#bbb" stroke-width="0.8"/>
<path d="M500 212 L505 219 L511 219" fill="none" stroke="#bbb" stroke-width="0.8"/>
<path d="M698.60 134.50 A40.5 40.5 0 1 1 662.84 194.01" fill="none" stroke="#cdc8a6" stroke-width="6.3"/><path d="M662.84 194.01 A40.5 40.5 0 0 1 698.60 134.50" fill="none" stroke="#a69d6b" stroke-width="6.3"/>
<path d="M667 133 L672 133 L677 137" fill="none" stroke="#bbb" stroke-width="0.8"/>
<path d="M690 226 L697 226 L697 219" fill="none" stroke="#bbb" stroke-width="0.8"/>
</svg>
<div class="t" style="left:441px;top:120.5px;font-size:7.2px;color:#555">GNC 0.1%</div>
<div class="t" style="left:408.5px;top:147.5px;font-size:7.2px;color:#555;text-align:right;line-height:9px">Male<br>39.7%</div>
<div class="t" style="left:508.5px;top:216px;font-size:7.4px;color:#555">Female 60.3%</div>
<div class="t" id="nb" style="left:454.5px;top:158.5px;font-size:7.9px;color:#333">&#35; of Beneficiaries</div>
<div class="t" id="nbv" style="left:458.5px;top:170px;font-size:11.7px;font-weight:bold;color:#222">1,464,172</div>
<div class="t" id="atitle" style="left:629px;top:103px;font-size:8.75px;color:#555">Breakdown of Beneficiaries by Age*</div>
<div class="t" style="left:628.5px;top:129.5px;font-size:7.4px;color:#555">18&gt; 32.8%</div>
<div class="t" style="left:649.5px;top:222px;font-size:7.4px;color:#555">0-17 67.2%</div>
<div class="t" id="ntitle" style="left:832.5px;top:103px;font-size:8.8px;color:#555">Breakdown of Beneficiaries by Nationality*</div>
<div class="t" style="right:153.5px;top:131.3px;font-size:6.3px;color:#8a8a8a">Syrian</div>
<div class="a" style="left:875.3px;top:126.4px;width:105.0px;height:14.5px;background:#a1965f"></div>
<div class="t" style="right:47px;top:131.3px;font-size:5.8px;color:#fff">1,540,308</div>
<div class="t" style="right:153.5px;top:147.8px;font-size:6.3px;color:#8a8a8a">Other Natio...</div>
<div class="a" style="left:875.3px;top:142.8px;width:8.4px;height:14.5px;background:#a1965f"></div>
<div class="t" style="left:887.9px;top:147.8px;font-size:5.8px;color:#444">108,139</div>
<div class="t" style="right:153.5px;top:164.2px;font-size:6.3px;color:#8a8a8a">Turkish</div>
<div class="a" style="left:875.3px;top:159.3px;width:1.5px;height:14.5px;background:#a1965f"></div>
<div class="t" style="left:881.0px;top:164.2px;font-size:5.8px;color:#444">15,081</div>
<div class="t" style="right:153.5px;top:180.7px;font-size:6.3px;color:#8a8a8a">Afghan</div>
<div class="a" style="left:875.3px;top:175.8px;width:0.8px;height:14.5px;background:#a1965f"></div>
<div class="t" style="left:879.6px;top:180.7px;font-size:5.8px;color:#444">1,707</div>
<div class="t" style="right:153.5px;top:197.1px;font-size:6.3px;color:#8a8a8a">Ukranian</div>
<div class="t" style="left:879.5px;top:197.1px;font-size:5.8px;color:#444">0</div>
<div class="t" style="right:153.5px;top:213.6px;font-size:6.3px;color:#8a8a8a">Unknown N...</div>
<div class="t" style="left:879.5px;top:213.6px;font-size:5.8px;color:#444">0</div>
<div class="t" id="mtitle" style="left:153.5px;top:281px;font-size:8.45px;color:#444">Monthly Progress</div>
<div class="a" style="left:24.7px;top:296.5px;width:21.6px;height:92.0px;background:#a1965f"></div>
<div class="a" style="left:24.7px;top:299.5px;width:21.6px;display:flex;justify-content:center"><span style="writing-mode:vertical-rl;transform:rotate(180deg);font-size:7.7px;line-height:1;color:#f5f1de;-webkit-text-stroke:0.2px #f5f1de">1,426,054</span></div>
<div class="t" style="right:993.8px;top:391.0px;font-size:7.4px;color:#333;transform-origin:100% 0;transform:rotate(-35deg)">January</div>
<div class="a" style="left:52.5px;top:298.5px;width:21.6px;height:90.0px;background:#a1965f"></div>
<div class="a" style="left:52.5px;top:301.5px;width:21.6px;display:flex;justify-content:center"><span style="writing-mode:vertical-rl;transform:rotate(180deg);font-size:7.7px;line-height:1;color:#f5f1de;-webkit-text-stroke:0.2px #f5f1de">1,394,926</span></div>
<div class="t" style="right:966.0px;top:391.0px;font-size:7.4px;color:#333;transform-origin:100% 0;transform:rotate(-35deg)">February</div>
<div class="a" style="left:80.3px;top:298.9px;width:21.6px;height:89.6px;background:#a1965f"></div>
<div class="a" style="left:80.3px;top:301.9px;width:21.6px;display:flex;justify-content:center"><span style="writing-mode:vertical-rl;transform:rotate(180deg);font-size:7.7px;line-height:1;color:#f5f1de;-webkit-text-stroke:0.2px #f5f1de">1,388,557</span></div>
<div class="t" style="right:938.2px;top:391.0px;font-size:7.4px;color:#333;transform-origin:100% 0;transform:rotate(-35deg)">March</div>
<div class="a" style="left:108.0px;top:300.5px;width:21.6px;height:88.0px;background:#a1965f"></div>
<div class="a" style="left:108.0px;top:303.5px;width:21.6px;display:flex;justify-content:center"><span style="writing-mode:vertical-rl;transform:rotate(180deg);font-size:7.7px;line-height:1;color:#f5f1de;-webkit-text-stroke:0.2px #f5f1de">1,364,617</span></div>
<div class="t" style="right:910.5px;top:391.0px;font-size:7.4px;color:#333;transform-origin:100% 0;transform:rotate(-35deg)">April</div>
<div class="a" style="left:135.8px;top:302.3px;width:21.6px;height:86.2px;background:#a1965f"></div>
<div class="a" style="left:135.8px;top:305.3px;width:21.6px;display:flex;justify-content:center"><span style="writing-mode:vertical-rl;transform:rotate(180deg);font-size:7.7px;line-height:1;color:#f5f1de;-webkit-text-stroke:0.2px #f5f1de">1,336,141</span></div>
<div class="t" style="right:882.7px;top:391.0px;font-size:7.4px;color:#333;transform-origin:100% 0;transform:rotate(-35deg)">May</div>
<div class="a" style="left:163.6px;top:304.0px;width:21.6px;height:84.5px;background:#a1965f"></div>
<div class="a" style="left:163.6px;top:307.0px;width:21.6px;display:flex;justify-content:center"><span style="writing-mode:vertical-rl;transform:rotate(180deg);font-size:7.7px;line-height:1;color:#f5f1de;-webkit-text-stroke:0.2px #f5f1de">1,309,040</span></div>
<div class="t" style="right:854.9px;top:391.0px;font-size:7.4px;color:#333;transform-origin:100% 0;transform:rotate(-35deg)">June</div>
<div class="a" style="left:191.4px;top:308.8px;width:21.6px;height:79.7px;background:#a1965f"></div>
<div class="a" style="left:191.4px;top:311.8px;width:21.6px;display:flex;justify-content:center"><span style="writing-mode:vertical-rl;transform:rotate(180deg);font-size:7.7px;line-height:1;color:#f5f1de;-webkit-text-stroke:0.2px #f5f1de">1,235,356</span></div>
<div class="t" style="right:827.1px;top:391.0px;font-size:7.4px;color:#333;transform-origin:100% 0;transform:rotate(-35deg)">July</div>
<div class="a" style="left:219.2px;top:310.8px;width:21.6px;height:77.7px;background:#a1965f"></div>
<div class="a" style="left:219.2px;top:313.8px;width:21.6px;display:flex;justify-content:center"><span style="writing-mode:vertical-rl;transform:rotate(180deg);font-size:7.7px;line-height:1;color:#f5f1de;-webkit-text-stroke:0.2px #f5f1de">1,204,981</span></div>
<div class="t" style="right:799.3px;top:391.0px;font-size:7.4px;color:#333;transform-origin:100% 0;transform:rotate(-35deg)">August</div>
<div class="a" style="left:246.9px;top:313.5px;width:21.6px;height:75.0px;background:#a1965f"></div>
<div class="a" style="left:246.9px;top:316.5px;width:21.6px;display:flex;justify-content:center"><span style="writing-mode:vertical-rl;transform:rotate(180deg);font-size:7.7px;line-height:1;color:#f5f1de;-webkit-text-stroke:0.2px #f5f1de">1,161,997</span></div>
<div class="t" style="right:771.6px;top:391.0px;font-size:7.4px;color:#333;transform-origin:100% 0;transform:rotate(-35deg)">September</div>
<div class="a" style="left:274.7px;top:315.2px;width:21.6px;height:73.3px;background:#a1965f"></div>
<div class="a" style="left:274.7px;top:318.2px;width:21.6px;display:flex;justify-content:center"><span style="writing-mode:vertical-rl;transform:rotate(180deg);font-size:7.7px;line-height:1;color:#f5f1de;-webkit-text-stroke:0.2px #f5f1de">1,136,780</span></div>
<div class="t" style="right:743.8px;top:391.0px;font-size:7.4px;color:#333;transform-origin:100% 0;transform:rotate(-35deg)">October</div>
<div class="a" style="left:302.5px;top:316.7px;width:21.6px;height:71.8px;background:#a1965f"></div>
<div class="a" style="left:302.5px;top:319.7px;width:21.6px;display:flex;justify-content:center"><span style="writing-mode:vertical-rl;transform:rotate(180deg);font-size:7.7px;line-height:1;color:#f5f1de;-webkit-text-stroke:0.2px #f5f1de">1,112,236</span></div>
<div class="t" style="right:716.0px;top:391.0px;font-size:7.4px;color:#333;transform-origin:100% 0;transform:rotate(-35deg)">November</div>
<div class="a" style="left:330.3px;top:325.3px;width:21.6px;height:63.2px;background:#a1965f"></div>
<div class="a" style="left:330.3px;top:328.3px;width:21.6px;display:flex;justify-content:center"><span style="writing-mode:vertical-rl;transform:rotate(180deg);font-size:7.7px;line-height:1;color:#f5f1de;-webkit-text-stroke:0.2px #f5f1de">980,090</span></div>
<div class="t" style="right:688.2px;top:391.0px;font-size:7.4px;color:#333;transform-origin:100% 0;transform:rotate(-35deg)">December</div>
<div class="a" style="left:46.6px;top:437px;width:111px;height:14px;background:#a09661"></div>
<div class="t" style="left:51.2px;top:440px;font-size:7.9px;color:#f6f2e4">Targets PWD?</div>
<div class="a" style="left:46.6px;top:451px;width:111px;height:23.5px;border:1px solid #ddd;border-top:none"></div>
<div class="a" style="left:55.2px;top:467px;width:96.5px;height:1px;background:#e4e4e4"></div>
<div class="t" style="left:56.2px;top:458px;font-size:7.2px;color:#555">All</div>
<svg class="a" style="left:140.2px;top:459px" width="9" height="6" viewBox="0 0 9 6"><path d="M0.8 1 L4.5 4.6 L8.2 1" fill="none" stroke="#999" stroke-width="0.9"/></svg>
<div class="a" style="left:195.5px;top:437px;width:111px;height:14px;background:#a09661"></div>
<div class="t" style="left:200.1px;top:440px;font-size:7.9px;color:#f6f2e4">Appeal / EQ</div>
<div class="a" style="left:195.5px;top:451px;width:111px;height:23.5px;border:1px solid #ddd;border-top:none"></div>
<div class="a" style="left:204.1px;top:467px;width:96.5px;height:1px;background:#e4e4e4"></div>
<div class="t" style="left:205.1px;top:458px;font-size:7.2px;color:#555">All</div>
<svg class="a" style="left:289.1px;top:459px" width="9" height="6" viewBox="0 0 9 6"><path d="M0.8 1 L4.5 4.6 L8.2 1" fill="none" stroke="#999" stroke-width="0.9"/></svg>
<div class="t" id="ptitle" style="left:368.8px;top:277.5px;font-size:8.3px;font-weight:bold;color:#252423">Progress Against the 3RP Targets</div>
<div class="t" id="sector" style="left:371.3px;top:293.5px;font-size:8.35px;color:#555">Sector</div>
<div class="t" id="benr" style="left:921.5px;top:293.5px;font-size:8.2px;color:#555">Beneficiaries Reached</div>
<svg class="a" style="left:922px;top:302px" width="6" height="4"><path d="M0 0 L5.5 0 L2.75 3.5Z" fill="#333"/></svg>
<div class="a" style="left:368px;top:309.2px;width:640px;height:1.8px;background:#dddbd0"></div>
<div class="a" style="left:368px;top:311px;width:640px;height:12px;background:#fcfbf4"></div>
<div class="a" style="left:368px;top:323.1px;width:640px;height:0.8px;background:#ececec"></div>
<svg class="a" style="left:371px;top:314.1px" width="6" height="6" viewBox="0 0 6 6"><rect x="0.5" y="0.5" width="5" height="5" fill="none" stroke="#888" stroke-width="0.7"/><line x1="1.5" y1="3" x2="4.5" y2="3" stroke="#666" stroke-width="0.7"/></svg>
<div class="t" style="left:382px;top:314.3px;font-size:6.9px;font-weight:bold;color:#252423">Basic Needs</div>
<div class="t" style="right:19.799999999999955px;top:314.3px;font-size:6.9px;font-weight:bold;color:#252423">1,441,273</div>
<div class="a" style="left:368px;top:336.6px;width:640px;height:0.8px;background:#ececec"></div>
<div class="t" style="left:387.2px;top:327.8px;font-size:7.18px;color:#444">1.2.1.a # of persons benefitting from monthly cash-based interventions</div>
<div class="t" style="right:19.799999999999955px;top:327.8px;font-size:7.0px;color:#444">1,419,663</div>
<div class="a" style="left:368px;top:350.1px;width:640px;height:0.8px;background:#ececec"></div>
<div class="t" style="left:387.2px;top:341.3px;font-size:7.18px;color:#444">1.2.1.b # of persons benefitting from one-time cash-based interventions</div>
<div class="t" style="right:19.799999999999955px;top:341.3px;font-size:7.0px;color:#444">21,610</div>
<div class="a" style="left:368px;top:363.5px;width:640px;height:0.8px;background:#ececec"></div>
<svg class="a" style="left:371px;top:354.5px" width="6" height="6" viewBox="0 0 6 6"><rect x="0.5" y="0.5" width="5" height="5" fill="none" stroke="#888" stroke-width="0.7"/><line x1="1.5" y1="3" x2="4.5" y2="3" stroke="#666" stroke-width="0.7"/></svg>
<div class="t" style="left:382px;top:354.7px;font-size:6.9px;font-weight:bold;color:#252423">Protection</div>
<div class="t" style="right:19.799999999999955px;top:354.7px;font-size:6.9px;font-weight:bold;color:#252423">17,036</div>
<div class="a" style="left:368px;top:377.0px;width:640px;height:0.8px;background:#ececec"></div>
<div class="t" style="left:387.2px;top:368.2px;font-size:7.18px;color:#444">2.1.4 # of individuals receiving cash/in-kind assistance to meet their protection needs</div>
<div class="t" style="right:19.799999999999955px;top:368.2px;font-size:7.0px;color:#444">17,036</div>
<div class="a" style="left:368px;top:390.5px;width:640px;height:0.8px;background:#ececec"></div>
<svg class="a" style="left:371px;top:381.5px" width="6" height="6" viewBox="0 0 6 6"><rect x="0.5" y="0.5" width="5" height="5" fill="none" stroke="#888" stroke-width="0.7"/><line x1="1.5" y1="3" x2="4.5" y2="3" stroke="#666" stroke-width="0.7"/></svg>
<div class="t" style="left:382px;top:381.7px;font-size:6.9px;font-weight:bold;color:#252423">Education</div>
<div class="t" style="right:19.799999999999955px;top:381.7px;font-size:6.9px;font-weight:bold;color:#252423">4,981</div>
<div class="a" style="left:368px;top:404.0px;width:640px;height:0.8px;background:#ececec"></div>
<div class="t" style="left:387.2px;top:395.2px;font-size:7.18px;color:#444">1.6.0.5 Provide higher education cash grants (undergraduate and post-graduate)</div>
<div class="t" style="right:19.799999999999955px;top:395.2px;font-size:7.0px;color:#444">3,818</div>
<div class="a" style="left:368px;top:417.5px;width:640px;height:0.8px;background:#ececec"></div>
<div class="t" style="left:387.2px;top:408.7px;font-size:7.18px;color:#444">1.6.0.3 Provide higher education scholarships (undergraduate and post-graduate)</div>
<div class="t" style="right:19.799999999999955px;top:408.7px;font-size:7.0px;color:#444">1,163</div>
<div class="a" style="left:368px;top:430.9px;width:640px;height:0.8px;background:#ececec"></div>
<svg class="a" style="left:371px;top:421.9px" width="6" height="6" viewBox="0 0 6 6"><rect x="0.5" y="0.5" width="5" height="5" fill="none" stroke="#888" stroke-width="0.7"/><line x1="1.5" y1="3" x2="4.5" y2="3" stroke="#666" stroke-width="0.7"/></svg>
<div class="t" style="left:382px;top:422.1px;font-size:6.9px;font-weight:bold;color:#252423">Economic Empowerment</div>
<div class="t" style="right:19.799999999999955px;top:422.1px;font-size:6.9px;font-weight:bold;color:#252423">882</div>
<div class="a" style="left:368px;top:444.4px;width:640px;height:0.8px;background:#ececec"></div>
<div class="t" style="left:387.2px;top:435.6px;font-size:7.18px;color:#444">2.3.1.a # of individuals completed livelihoods trainings (technical and vocational trainings which can also include soft/language skills)- Non agricultural</div>
<div class="t" style="right:19.799999999999955px;top:435.6px;font-size:7.0px;color:#444">882</div>
<div class="t" style="left:382px;top:449.1px;font-size:6.9px;font-weight:bold;color:#252423">Total</div>
<div class="t" style="right:19.799999999999955px;top:449.1px;font-size:6.9px;font-weight:bold;color:#252423">1,464,172</div>
<div class="a" style="left:919px;top:311px;width:0.9px;height:148px;background:#c8c8c8"></div>
<div class="t" style="left:3px;top:477.5px;font-size:6.3px;font-weight:bold;color:#5a5e68">Reporting Agencies</div>
<div class="a" style="left:3.0px;top:488px;width:34.9px;height:27.5px;background:#a09661"></div>
<div class="t" style="left:5.6px;top:491.3px;font-size:6.6px;color:#fff">ASAM</div>
<div class="a" style="left:39.3px;top:488px;width:34.9px;height:27.5px;background:#a09661"></div>
<div class="t" style="left:41.9px;top:491.3px;font-size:6.6px;color:#fff">CARE I...</div>
<div class="a" style="left:75.7px;top:488px;width:34.9px;height:27.5px;background:#a09661"></div>
<div class="t" style="left:78.3px;top:491.3px;font-size:6.6px;color:#fff">Field R...</div>
<div class="a" style="left:112.0px;top:488px;width:34.9px;height:27.5px;background:#a09661"></div>
<div class="t" style="left:114.6px;top:491.3px;font-size:6.6px;color:#fff">GOAL I...</div>
<div class="a" style="left:148.4px;top:488px;width:34.9px;height:27.5px;background:#a09661"></div>
<div class="t" style="left:151.0px;top:491.3px;font-size:6.6px;color:#fff">Hatay ...</div>
<div class="a" style="left:184.7px;top:488px;width:34.9px;height:27.5px;background:#a09661"></div>
<div class="t" style="left:187.3px;top:491.3px;font-size:6.6px;color:#fff">HRDF</div>
<div class="a" style="left:221.0px;top:488px;width:34.9px;height:27.5px;background:#a09661"></div>
<div class="t" style="left:223.6px;top:491.3px;font-size:6.6px;color:#fff">Human...</div>
<div class="a" style="left:257.4px;top:488px;width:34.9px;height:27.5px;background:#a09661"></div>
<div class="t" style="left:260.0px;top:491.3px;font-size:6.6px;color:#fff">ICMPD</div>
<div class="a" style="left:293.7px;top:488px;width:34.9px;height:27.5px;background:#a09661"></div>
<div class="t" style="left:296.3px;top:491.3px;font-size:6.6px;color:#fff">IGAM</div>
<div class="a" style="left:330.1px;top:488px;width:34.9px;height:27.5px;background:#a09661"></div>
<div class="t" style="left:332.7px;top:491.3px;font-size:6.6px;color:#fff">IOM</div>
<div class="a" style="left:366.4px;top:488px;width:34.9px;height:27.5px;background:#a09661"></div>
<div class="t" style="left:369.0px;top:491.3px;font-size:6.6px;color:#fff">Mavi K...</div>
<div class="a" style="left:402.7px;top:488px;width:34.9px;height:27.5px;background:#a09661"></div>
<div class="t" style="left:405.3px;top:491.3px;font-size:6.6px;color:#fff">MoFSS</div>
<div class="a" style="left:439.1px;top:488px;width:34.9px;height:27.5px;background:#a09661"></div>
<div class="t" style="left:441.7px;top:491.3px;font-size:6.6px;color:#fff">Multeci...</div>
<div class="a" style="left:475.4px;top:488px;width:34.9px;height:27.5px;background:#a09661"></div>
<div class="t" style="left:478.0px;top:491.3px;font-size:6.6px;color:#fff">NSPPL</div>
<div class="a" style="left:511.8px;top:488px;width:34.9px;height:27.5px;background:#a09661"></div>
<div class="t" style="left:514.4px;top:491.3px;font-size:6.6px;color:#fff">Qatar C...</div>
<div class="a" style="left:548.1px;top:488px;width:34.9px;height:27.5px;background:#a09661"></div>
<div class="t" style="left:550.7px;top:491.3px;font-size:6.6px;color:#fff">SARD</div>
<div class="a" style="left:584.4px;top:488px;width:34.9px;height:27.5px;background:#a09661"></div>
<div class="t" style="left:587.0px;top:491.3px;font-size:6.6px;color:#fff">Save th...</div>
<div class="a" style="left:620.8px;top:488px;width:34.9px;height:27.5px;background:#a09661"></div>
<div class="t" style="left:623.4px;top:491.3px;font-size:6.6px;color:#fff">STL</div>
<div class="a" style="left:657.1px;top:488px;width:34.9px;height:27.5px;background:#a09661"></div>
<div class="t" style="left:659.7px;top:491.3px;font-size:6.6px;color:#fff">TKV</div>
<div class="a" style="left:693.4px;top:488px;width:34.9px;height:27.5px;background:#a09661"></div>
<div class="t" style="left:696.0px;top:491.3px;font-size:6.6px;color:#fff">TRC</div>
<div class="a" style="left:729.8px;top:488px;width:34.9px;height:27.5px;background:#a09661"></div>
<div class="t" style="left:732.4px;top:491.3px;font-size:6.6px;color:#fff">UNFPA</div>
<div class="a" style="left:766.1px;top:488px;width:34.9px;height:27.5px;background:#a09661"></div>
<div class="t" style="left:768.7px;top:491.3px;font-size:6.6px;color:#fff">UNHCR</div>
<div class="a" style="left:802.5px;top:488px;width:34.9px;height:27.5px;background:#a09661"></div>
<div class="t" style="left:805.1px;top:491.3px;font-size:6.6px;color:#fff">WALD</div>
<div class="a" style="left:838.8px;top:488px;width:34.9px;height:27.5px;background:#a09661"></div>
<div class="t" style="left:841.4px;top:491.3px;font-size:6.6px;color:#fff">WFP</div>
<div class="a" style="left:875.1px;top:488px;width:34.9px;height:27.5px;background:#a09661"></div>
<div class="t" style="left:877.7px;top:491.3px;font-size:6.6px;color:#fff">World ...</div>
<div class="a" style="left:911.5px;top:488px;width:34.9px;height:27.5px;background:#a09661"></div>
<div class="t" style="left:914.1px;top:491.3px;font-size:6.6px;color:#fff">World ...</div>
<div class="a" style="left:947.8px;top:488px;width:34.9px;height:27.5px;background:#a09661"></div>
<div class="t" style="left:950.4px;top:491.3px;font-size:6.6px;color:#fff">Yedi Ba...</div>
<div class="a" style="left:984.2px;top:488px;width:34.9px;height:27.5px;background:#a09661"></div>
<div class="t" style="left:986.8px;top:491.3px;font-size:6.6px;color:#fff">Yeryüz...</div>
<div class="t" style="left:3px;top:522px;font-size:6.3px;font-weight:bold;color:#5a5e68">Supporting Agencies</div>
<div class="a" style="left:3.8px;top:532.7px;width:40.8px;height:27px;background:#b0b0b0"></div>
<div class="t" style="left:6.2px;top:536.5px;font-size:6.6px;color:#ececec">ASAM</div>
<div class="a" style="left:46.2px;top:532.7px;width:40.8px;height:27px;background:#b0b0b0"></div>
<div class="t" style="left:48.6px;top:536.5px;font-size:6.6px;color:#ececec">Bar Assoc...</div>
<div class="a" style="left:88.5px;top:532.7px;width:40.8px;height:27px;background:#b0b0b0"></div>
<div class="t" style="left:90.9px;top:536.5px;font-size:6.6px;color:#ececec">CARE Inte...</div>
<div class="a" style="left:130.9px;top:532.7px;width:40.8px;height:27px;background:#b0b0b0"></div>
<div class="t" style="left:133.3px;top:536.5px;font-size:6.6px;color:#ececec">DKH</div>
<div class="a" style="left:173.3px;top:532.7px;width:40.8px;height:27px;background:#b0b0b0"></div>
<div class="t" style="left:175.7px;top:536.5px;font-size:6.6px;color:#ececec">ECHO Tur...</div>
<div class="a" style="left:215.6px;top:532.7px;width:40.8px;height:27px;background:#b0b0b0"></div>
<div class="t" style="left:218.0px;top:536.5px;font-size:6.6px;color:#ececec">GOAL Int...</div>
<div class="a" style="left:258.0px;top:532.7px;width:40.8px;height:27px;background:#b0b0b0"></div>
<div class="t" style="left:260.4px;top:536.5px;font-size:6.6px;color:#ececec">HABITAT</div>
<div class="a" style="left:300.3px;top:532.7px;width:40.8px;height:27px;background:#b0b0b0"></div>
<div class="t" style="left:302.7px;top:536.5px;font-size:6.6px;color:#ececec">Human A...</div>
<div class="a" style="left:342.7px;top:532.7px;width:40.8px;height:27px;background:#b0b0b0"></div>
<div class="t" style="left:345.1px;top:536.5px;font-size:6.6px;color:#ececec">ICMPD</div>
<div class="a" style="left:385.1px;top:532.7px;width:40.8px;height:27px;background:#b0b0b0"></div>
<div class="t" style="left:387.5px;top:536.5px;font-size:6.6px;color:#ececec">IFRC</div>
<div class="a" style="left:427.4px;top:532.7px;width:40.8px;height:27px;background:#b0b0b0"></div>
<div class="t" style="left:429.8px;top:536.5px;font-size:6.6px;color:#ececec">IGAM</div>
<div class="a" style="left:469.8px;top:532.7px;width:40.8px;height:27px;background:#b0b0b0"></div>
<div class="t" style="left:472.2px;top:536.5px;font-size:6.6px;color:#ececec">IOM</div>
<div class="a" style="left:512.1px;top:532.7px;width:40.8px;height:27px;background:#b0b0b0"></div>
<div class="t" style="left:514.5px;top:536.5px;font-size:6.6px;color:#ececec">Qatar Ch...</div>
<div class="a" style="left:554.5px;top:532.7px;width:40.8px;height:27px;background:#b0b0b0"></div>
<div class="t" style="left:556.9px;top:536.5px;font-size:6.6px;color:#ececec">Relief Inte...</div>
<div class="a" style="left:596.9px;top:532.7px;width:40.8px;height:27px;background:#b0b0b0"></div>
<div class="t" style="left:599.3px;top:536.5px;font-size:6.6px;color:#ececec">SARD</div>
<div class="a" style="left:639.2px;top:532.7px;width:40.8px;height:27px;background:#b0b0b0"></div>
<div class="t" style="left:641.6px;top:536.5px;font-size:6.6px;color:#ececec">Save the ...</div>
<div class="a" style="left:681.6px;top:532.7px;width:40.8px;height:27px;background:#b0b0b0"></div>
<div class="t" style="left:684.0px;top:536.5px;font-size:6.6px;color:#ececec">TRC</div>
<div class="a" style="left:724.0px;top:532.7px;width:40.8px;height:27px;background:#b0b0b0"></div>
<div class="t" style="left:726.4px;top:536.5px;font-size:6.6px;color:#ececec">UNFPA</div>
<div class="a" style="left:766.3px;top:532.7px;width:40.8px;height:27px;background:#b0b0b0"></div>
<div class="t" style="left:768.7px;top:536.5px;font-size:6.6px;color:#ececec">UNHCR</div>
<div class="a" style="left:808.7px;top:532.7px;width:40.8px;height:27px;background:#b0b0b0"></div>
<div class="t" style="left:811.1px;top:536.5px;font-size:6.6px;color:#ececec">UNICEF</div>
<div class="a" style="left:851.1px;top:532.7px;width:40.8px;height:27px;background:#b0b0b0"></div>
<div class="t" style="left:853.5px;top:536.5px;font-size:6.6px;color:#ececec">WFP</div>
<div class="a" style="left:893.4px;top:532.7px;width:40.8px;height:27px;background:#b0b0b0"></div>
<div class="t" style="left:895.8px;top:536.5px;font-size:6.6px;color:#ececec">World Hu...</div>
<div class="a" style="left:935.8px;top:532.7px;width:40.8px;height:27px;background:#b0b0b0"></div>
<div class="t" style="left:938.2px;top:536.5px;font-size:6.6px;color:#ececec">Yedi Basak</div>
<div class="a" style="left:978.1px;top:532.7px;width:40.8px;height:27px;background:#b0b0b0"></div>
<div class="t" style="left:980.5px;top:536.5px;font-size:6.6px;color:#ececec">Yeryüzü C...</div>
<div class="a" style="left:6.5px;top:566.3px;width:1011.5px;height:1.4px;background:#5b8fc0"></div>
<div class="t" id="src" style="left:3px;top:572.5px;font-size:7.25px;color:#222"><b>Sources</b>: ActivityInfo <b>Feedback</b>: IMTurkey@unhcr.org</div>
</div></body></html>
